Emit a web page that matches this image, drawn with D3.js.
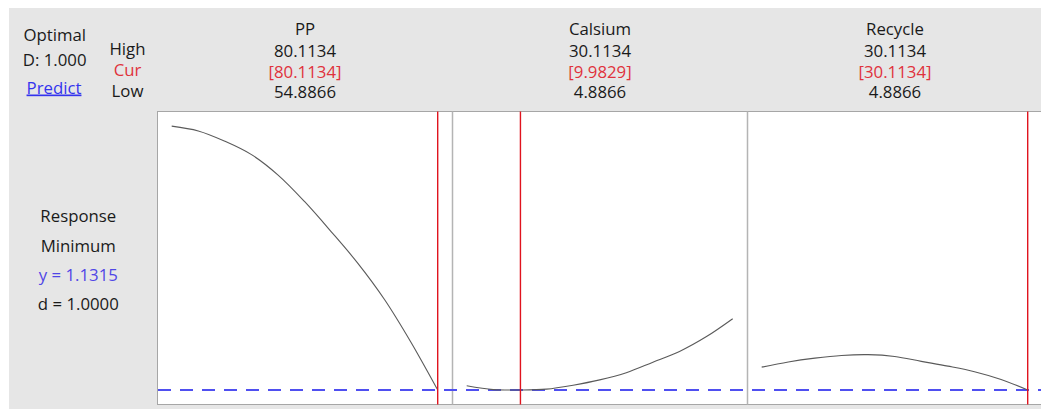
<!DOCTYPE html>
<html>
<head>
<meta charset="utf-8">
<script src="https://cdn.jsdelivr.net/npm/d3@7"></script>
<style>
  html, body { margin: 0; padding: 0; background: #ffffff; }
  svg { display: block; }
  text { font-family: "Open Sans", "Noto Sans", sans-serif; font-size: 16.8px; }
</style>
</head>
<body>
<svg id="chart" width="1041" height="409"></svg>
<script>
// Factors of the optimizer and their settings
const factors = ["PP", "Calsium", "Recycle"];
const highs = [80.1134, 30.1134, 30.1134];
const lows = [54.8866, 4.8866, 4.8866];
const currents = [80.1134, 9.9829, 30.1134];
const highLabels = ["80.1134", "30.1134", "30.1134"];
const curLabels = ["[80.1134]", "[9.9829]", "[30.1134]"];
const lowLabels = ["54.8866", "4.8866", "4.8866"];

// Predicted response traced along each factor (other factors held at current)
const ppX = [54.8866, 57.4093, 59.9320, 62.4547, 64.9773, 67.5000, 70.0227, 72.5454, 75.0681, 77.5907, 80.1134];
const ppY = [8.066, 7.939, 7.668, 7.316, 6.779, 6.079, 5.289, 4.459, 3.509, 2.379, 1.1315];
const calX = [4.8866, 7.4093, 9.9829, 12.4547, 14.9773, 17.5000, 20.0227, 22.5454, 25.0681, 27.5907, 30.1134];
const calY = [1.242, 1.142, 1.1315, 1.155, 1.258, 1.397, 1.587, 1.863, 2.145, 2.529, 3.005];
const recX = [4.8866, 7.4093, 9.9320, 12.4547, 14.9773, 17.5000, 20.0227, 22.5454, 25.0681, 27.5907, 30.1134];
const recY = [1.732, 1.868, 1.968, 2.039, 2.060, 2.013, 1.884, 1.758, 1.613, 1.408, 1.1315];

// Response summary
const optimalD = "1.000";
const responseGoal = "Minimum";
const yOpt = 1.1315;
const dValue = "1.0000";

const curvesX = [ppX, calX, recX];
const curvesY = [ppY, calY, recY];

const svg = d3.select("#chart");
const W = 1041, H = 409;

// Grey frame
svg.append("rect").attr("x", 9).attr("y", 8).attr("width", W - 9).attr("height", H - 8)
  .attr("fill", "#e6e6e6");

// Plot region
const plotLeft = 157.5, plotTop = 111.5, plotBottom = 404.5;
const panelW = 295;
const panelStart = i => plotLeft + i * panelW;

svg.append("rect")
  .attr("x", plotLeft).attr("y", plotTop)
  .attr("width", W - plotLeft + 5).attr("height", plotBottom - plotTop)
  .attr("fill", "#ffffff").attr("stroke", "#a6a6a6").attr("stroke-width", 1);

// Panel dividers
[1, 2].forEach(i => {
  svg.append("line")
    .attr("x1", panelStart(i)).attr("x2", panelStart(i))
    .attr("y1", plotTop).attr("y2", plotBottom)
    .attr("stroke", "#b4b4b4").attr("stroke-width", 1.5);
});

// Shared response scale
const y = d3.scaleLinear().domain([0.75, 8.45]).range([plotBottom, plotTop]);

// Dashed line at the optimal response
svg.append("line")
  .attr("x1", plotLeft + 0.5).attr("x2", W)
  .attr("y1", y(yOpt)).attr("y2", y(yOpt))
  .attr("stroke", "#4f4ff0").attr("stroke-width", 1.8)
  .attr("stroke-dasharray", "13,9");

factors.forEach((name, i) => {
  const x0 = panelStart(i);
  const x = d3.scaleLinear().domain([lows[i], highs[i]]).range([x0 + 14.2, x0 + 280.2]);

  const pts = curvesX[i].map((v, j) => [v, curvesY[i][j]]);
  const line = d3.line()
    .x(d => x(d[0])).y(d => y(d[1]))
    .curve(d3.curveCatmullRom.alpha(0.5));
  svg.append("path")
    .attr("d", line(pts))
    .attr("fill", "none").attr("stroke", "#5a5a5a").attr("stroke-width", 1.1);

  // Current setting
  svg.append("line")
    .attr("x1", x(currents[i])).attr("x2", x(currents[i]))
    .attr("y1", plotTop).attr("y2", plotBottom)
    .attr("stroke", "#e0141e").attr("stroke-width", 1.4);

  // Header text
  const cx = x0 + panelW / 2;
  const hdr = [[name, 35, "#1a1a1a"], [highLabels[i], 56.5, "#1a1a1a"],
               [curLabels[i], 77.5, "#e0323c"], [lowLabels[i], 98, "#1a1a1a"]];
  hdr.forEach(([t, by, c]) => {
    svg.append("text").attr("x", cx).attr("y", by)
      .attr("text-anchor", "middle").attr("fill", c).text(t);
  });
});

// Left-hand labels
const left = svg.append("g").attr("text-anchor", "middle");
left.append("text").attr("x", 54.7).attr("y", 40.5).attr("fill", "#1a1a1a").text("Optimal");
left.append("text").attr("x", 54.7).attr("y", 66).attr("fill", "#1a1a1a").text("D: " + optimalD);
left.append("text").attr("x", 54).attr("y", 93.5).attr("fill", "#3434ee")
  .attr("text-decoration", "underline").text("Predict");
left.append("text").attr("x", 127.5).attr("y", 54.5).attr("fill", "#1a1a1a").text("High");
left.append("text").attr("x", 127.5).attr("y", 76).attr("fill", "#e0323c").text("Cur");
left.append("text").attr("x", 127.5).attr("y", 97).attr("fill", "#1a1a1a").text("Low");

left.append("text").attr("x", 78.3).attr("y", 221.5).attr("fill", "#1a1a1a").text("Response");
left.append("text").attr("x", 78.3).attr("y", 251.5).attr("fill", "#1a1a1a").text(responseGoal);
left.append("text").attr("x", 78.3).attr("y", 280.5).attr("fill", "#5046e6").text("y = " + yOpt.toFixed(4));
left.append("text").attr("x", 78.3).attr("y", 309.5).attr("fill", "#1a1a1a").text("d = " + dValue);
</script>
</body>
</html>
